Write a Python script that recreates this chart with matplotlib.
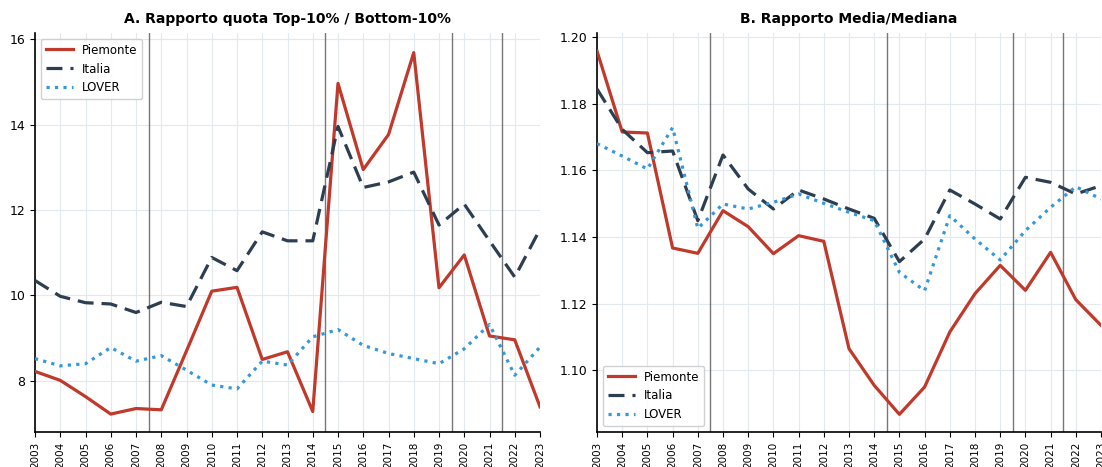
import matplotlib
matplotlib.use('Agg')
import matplotlib.pyplot as plt
import numpy as np

years = list(range(2003, 2024))
breaks = [2007.5, 2014.5, 2019.5, 2021.5]

# Panel A: rapporto quota top-10% / bottom-10%
piem_a = [8.22, 8.01, 7.63, 7.22, 7.35, 7.32, 8.70, 10.10, 10.19, 8.50, 8.68, 7.28,
          14.97, 12.95, 13.77, 15.69, 10.18, 10.95, 9.05, 8.96, 7.39]
ital_a = [10.35, 9.98, 9.83, 9.80, 9.60, 9.84, 9.74, 10.89, 10.58, 11.49, 11.28, 11.28,
          13.96, 12.53, 12.66, 12.89, 11.65, 12.14, 11.28, 10.43, 11.55]
lover_a = [8.52, 8.35, 8.40, 8.78, 8.46, 8.59, 8.25, 7.90, 7.81, 8.46, 8.37, 9.03,
           9.20, 8.83, 8.64, 8.52, 8.40, 8.75, 9.32, 8.13, 8.79]

# Panel B: rapporto media/mediana
piem_b = [1.1958, 1.1715, 1.1712, 1.1367, 1.1351, 1.1479, 1.1431, 1.1350, 1.1404, 1.1387,
          1.1065, 1.0955, 1.0868, 1.0950, 1.1115, 1.1230, 1.1315, 1.1240, 1.1354, 1.1212, 1.1135]
ital_b = [1.1844, 1.1723, 1.1653, 1.1658, 1.1449, 1.1646, 1.1544, 1.1484, 1.1541, 1.1514,
          1.1484, 1.1456, 1.1326, 1.1394, 1.1541, 1.1499, 1.1454, 1.1579, 1.1564, 1.1529, 1.1554]
lover_b = [1.1680, 1.1643, 1.1604, 1.1728, 1.1426, 1.1499, 1.1484, 1.1504, 1.1529, 1.1501,
           1.1474, 1.1449, 1.1294, 1.1239, 1.1464, 1.1394, 1.1331, 1.1419, 1.1489, 1.1551, 1.1514]

styles = {
    'Piemonte': dict(color='#c0392b', ls='-', lw=2.3),
    'Italia': dict(color='#2c3e50', ls=(0, (5, 2.5)), lw=2.3),
    'LOVER': dict(color='#3498db', ls=':', lw=2.3),
}

fig = plt.figure(figsize=(11.02, 4.67), dpi=100)
W, H = 1102, 467
ax1 = fig.add_axes([35 / W, 35 / H, 505 / W, 399 / H])
ax2 = fig.add_axes([597 / W, 35 / H, 504 / W, 399 / H])

panels = [
    (ax1, piem_a, ital_a, lover_a, 'A. Rapporto quota Top-10% / Bottom-10%',
     (6.8, 16.15), [8, 10, 12, 14, 16], '%d', 'upper left'),
    (ax2, piem_b, ital_b, lover_b, 'B. Rapporto Media/Mediana',
     (1.0815, 1.2012), [1.10, 1.12, 1.14, 1.16, 1.18, 1.20], '%.2f', 'lower left'),
]

for ax, p, it, lv, title, ylim, yticks, fmt, loc in panels:
    for b in breaks:
        ax.axvline(b, color='#555555', lw=1.0, alpha=0.8, zorder=1)
    ax.plot(years, p, label='Piemonte', zorder=3, **styles['Piemonte'])
    ax.plot(years, it, label='Italia', zorder=3, **styles['Italia'])
    ax.plot(years, lv, label='LOVER', zorder=3, **styles['LOVER'])
    ax.set_xlim(2003, 2023)
    ax.set_ylim(*ylim)
    ax.set_xticks(years)
    ax.set_xticklabels([str(y) for y in years], rotation=90, fontsize=7.5)
    ax.set_yticks(yticks)
    ax.set_yticklabels([fmt % v for v in yticks], fontsize=9)
    ax.grid(True, color='#e3eaee', lw=0.8, zorder=0)
    ax.set_axisbelow(True)
    for s in ['top', 'right']:
        ax.spines[s].set_visible(False)
    ax.spines['left'].set_linewidth(1.2)
    ax.spines['bottom'].set_linewidth(1.2)
    ax.set_title(title, fontsize=10, fontweight='bold', pad=7)
    ax.legend(loc=loc, fontsize=8.5, framealpha=0.9, handlelength=2.3)

fig.savefig('out.png', dpi=100)
